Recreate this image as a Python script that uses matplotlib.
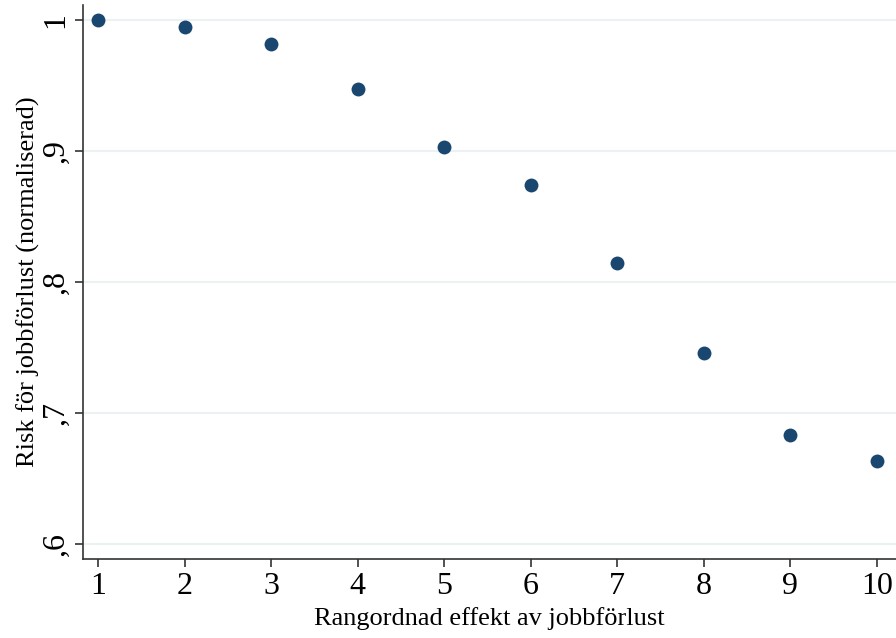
import numpy as np
import matplotlib
matplotlib.use("Agg")
import matplotlib.pyplot as plt

# rangordning och normaliserad risk
rank = [1, 2, 3, 4, 5, 6, 7, 8, 9, 10]
risk = [1.000, 0.9947, 0.9817, 0.9473, 0.9031, 0.8740, 0.8145, 0.7458, 0.6832, 0.6634]
yticks = [0.6, 0.7, 0.8, 0.9, 1.0]
ytick_labels = [",6", ",7", ",8", ",9", "1"]

plt.rcParams["font.family"] = ["Liberation Serif", "DejaVu Serif"]

fig = plt.figure(figsize=(8.96, 6.38), dpi=100)
ax = fig.add_axes([0.0926, 0.1238, 0.9074, 0.8682])

ax.scatter(rank, risk, s=100, color="#1a476f", zorder=3, linewidths=0)

ax.set_xlim(0.827, 10.22)
ax.set_ylim(0.5885, 1.0115)
ax.set_xticks(rank)
ax.set_yticks(yticks)
ax.set_yticklabels(ytick_labels, rotation=90, va="center")
ax.tick_params(axis="both", labelsize=23, length=6, width=1.2, color="#333333")
ax.tick_params(axis="x", pad=3)
ax.tick_params(axis="y", pad=3)

ax.grid(axis="y", color="#eaf2f3", linewidth=1.5, zorder=0)
ax.set_axisbelow(True)

for side in ["top", "right"]:
    ax.spines[side].set_visible(False)
for side in ["left", "bottom"]:
    ax.spines[side].set_color("#333333")
    ax.spines[side].set_linewidth(1.2)

ax.set_xlabel("Rangordnad effekt av jobbförlust", fontsize=19, labelpad=5)
ax.set_ylabel("Risk för jobbförlust (normaliserad)", fontsize=19, labelpad=1)

fig.savefig("out.png", dpi=100)
